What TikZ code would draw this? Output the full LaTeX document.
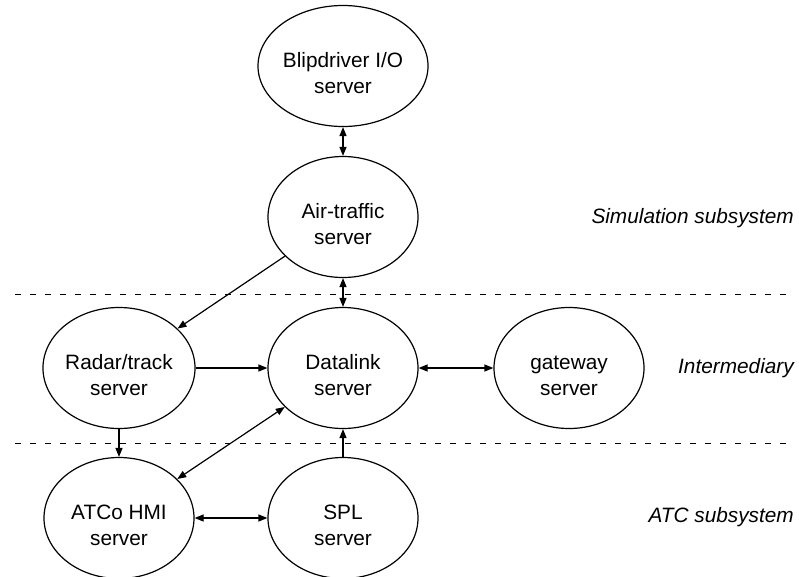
\documentclass[tikz,border=0pt]{standalone}
\usepackage{fontspec}
\setmainfont{Liberation Sans}
\usetikzlibrary{shapes.geometric,arrows.meta}
\begin{document}
\begin{tikzpicture}[x=1pt,y=-1pt,
  server/.style={ellipse,draw,line width=1.2pt,minimum width=150pt,minimum height=121pt,
    inner sep=0pt,align=center,text height=54pt,text depth=0pt,
    font=\fontsize{20.8}{26}\selectfont},
  link/.style={line width=1.2pt,-{Triangle[length=9pt,width=7pt]}},
  biline/.style={line width=1.2pt,{Triangle[length=9pt,width=7pt]}-{Triangle[length=9pt,width=7pt]}},
  divider/.style={line width=1pt,dash pattern=on 6pt off 9pt},
  zone/.style={anchor=east,inner sep=0pt,font=\fontsize{20.8}{26}\selectfont\itshape}]
\useasboundingbox (0,0) rectangle (799,576);

% layer separators
\draw[divider] (15,294) -- (792,294);
\draw[divider] (15,443) -- (792,443);

% servers
\node[server] (blip) at (343,66) {Blipdriver I/O\\server};
\node[server] (air) at (343,217) {Air-traffic\\server};
\node[server] (radar) at (119,368) {Radar/track\\server};
\node[server] (data) at (343,368) {Datalink\\server};
\node[server] (gate) at (569,368) {gateway\\server};
\node[server] (hmi) at (119,518) {ATCo HMI\\server};
\node[server] (spl) at (343,518) {SPL\\server};

% subsystem labels
\node[zone] (sim) at (794,218) {Simulation subsystem};
\node[zone] (mid) at (794,368) {Intermediary};
\node[zone] (atc) at (794,517) {ATC subsystem};

% connections
\draw[biline] (blip) -- (air);
\draw[link] (air) -- (radar);
\draw[biline] (air) -- (data);
\draw[link] (radar) -- (data);
\draw[biline] (data) -- (gate);
\draw[link] (radar) -- (hmi);
\draw[biline] (hmi) -- (data);
\draw[link] (spl) -- (data);
\draw[biline] (hmi) -- (spl);
\end{tikzpicture}
\end{document}
